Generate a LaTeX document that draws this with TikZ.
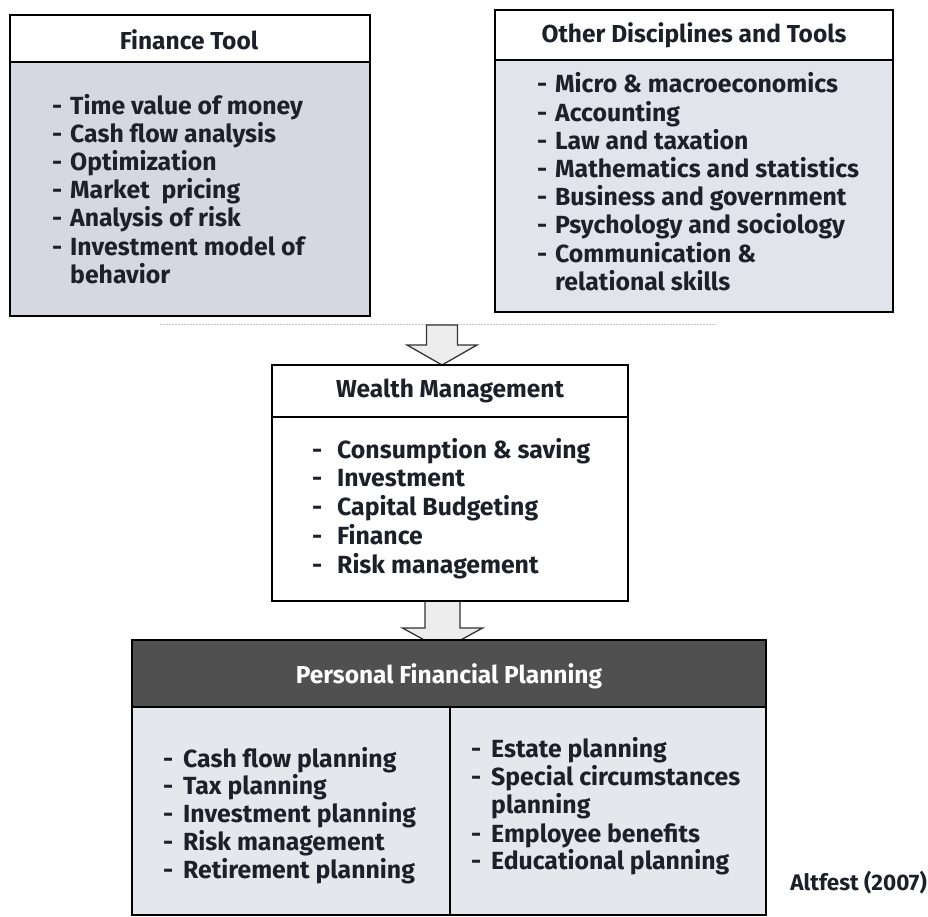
\documentclass[tikz,border=0pt]{standalone}
\usepackage{fontspec}
\setmainfont{Fira Sans}
\usetikzlibrary{calc}
\definecolor{ink}{HTML}{1E2029}
\definecolor{ftfill}{HTML}{D6D8E1}
\definecolor{odfill}{HTML}{E2E4EB}
\definecolor{pfpfill}{HTML}{E6E7EC}
\definecolor{pfphead}{HTML}{505050}
\definecolor{arrowfill}{HTML}{EDEDED}
\newcommand\dashitem[1][18pt]{\makebox[#1][l]{-}}
\begin{document}
\begin{tikzpicture}[x=1pt,y=-1pt,
  frame/.style={draw=black,line width=1.6pt},
  panel/.style={inner sep=0pt,outer sep=0pt,anchor=north west},
  headtext/.style={font=\bfseries\fontsize{24.5}{28}\selectfont,text=ink,anchor=base,inner sep=0pt},
  item/.style={font=\bfseries\fontsize{24.8}{28}\selectfont,text=ink,anchor=base west,inner sep=0pt},
  blockarrow/.style={draw=black!80,line width=1.3pt,fill=arrowfill,line join=miter}]

\useasboundingbox (0,0) rectangle (928,917);

% faint rule between the top panels and the arrow
\coordinate (rulestart) at (160,324);
\coordinate (ruleend) at (716,324);
\draw[gray!45,line width=0.8pt,dash pattern=on 2pt off 1pt] (rulestart) -- (ruleend);

% ---------- Finance Tool ----------
\node[panel,fill=ftfill,minimum width=360pt,minimum height=301pt] (ft) at (10,15) {};
\fill[white] (ft.north west) rectangle ($(ft.north east)+(0,47)$);
\draw[frame] ($(ft.north west)+(0,47)$) -- ($(ft.north east)+(0,47)$);
\draw[frame] (ft.north west) rectangle (ft.south east);
\node[headtext] (ft-head) at (189,50) {Finance Tool};
\foreach \t [count=\i] in {Time value of money,Cash flow analysis,Optimization,Market\ \ pricing,Analysis of risk,Investment model of}
  \node[item] (ft-\i) at (52,{115+(\i-1)*28}) {\dashitem\t};
\node[item] (ft-7) at (70,283) {behavior};

% ---------- Other Disciplines and Tools ----------
\node[panel,fill=odfill,minimum width=398pt,minimum height=302pt] (od) at (495,10) {};
\fill[white] (od.north west) rectangle ($(od.north east)+(0,50)$);
\draw[frame] ($(od.north west)+(0,50)$) -- ($(od.north east)+(0,50)$);
\draw[frame] (od.north west) rectangle (od.south east);
\node[headtext] (od-head) at (694,43) {Other Disciplines and Tools};
\foreach \t [count=\i] in {Micro \& macroeconomics,Accounting,Law and taxation,Mathematics and statistics,Business and government,Psychology and sociology,Communication \&}
  \node[item] (od-\i) at (537,{93+(\i-1)*28.2}) {\dashitem\t};
\node[item] (od-8) at (555,290) {relational skills};

% ---------- Wealth Management ----------
\node[panel,fill=white,minimum width=356pt,minimum height=236pt] (wm) at (272,365) {};
\draw[frame] ($(wm.north west)+(0,52)$) -- ($(wm.north east)+(0,52)$);
\node[headtext] (wm-head) at (450,397) {Wealth Management};
\foreach \t [count=\i] in {Consumption \& saving,Investment,Capital Budgeting,Finance,Risk management}
  \node[item] (wm-\i) at (312,{458+(\i-1)*28.8}) {\dashitem[25pt]\t};

% arrow from the top panels into Wealth Management
\coordinate (a1) at (442,325);
\draw[blockarrow]
  ($(a1)+(-15.5,0)$) -- ($(a1)+(15.5,0)$) -- ($(a1 |- wm.north)+(15.5,-20)$)
  -- ($(a1 |- wm.north)+(35,-20)$) -- (a1 |- wm.north)
  -- ($(a1 |- wm.north)+(-35,-20)$) -- ($(a1 |- wm.north)+(-15.5,-20)$) -- cycle;
\draw[frame] (wm.north west) rectangle (wm.south east);

% arrow from Wealth Management into Personal Financial Planning
\coordinate (a2) at (442.5,601);
\coordinate (a2tip) at (442.5,650);
\draw[blockarrow]
  ($(a2)+(-17.5,0)$) -- ($(a2)+(17.5,0)$) -- ($(a2tip)+(17.5,-22)$)
  -- ($(a2tip)+(40,-22)$) -- (a2tip)
  -- ($(a2tip)+(-40,-22)$) -- ($(a2tip)+(-17.5,-22)$) -- cycle;
\draw[frame] (wm.south west) -- (wm.south east);

% ---------- Personal Financial Planning ----------
\node[panel,fill=pfpfill,minimum width=634pt,minimum height=275pt] (pfp) at (132,640) {};
\fill[pfphead] (pfp.north west) rectangle ($(pfp.north east)+(0,67)$);
\draw[frame] ($(pfp.north west)+(0,67)$) -- ($(pfp.north east)+(0,67)$);
\draw[frame] ($(pfp.north west)+(318,67)$) -- ($(pfp.south west)+(318,0)$);
\draw[frame] (pfp.north west) rectangle (pfp.south east);
\node[headtext,text=white] (pfp-head) at (449,683) {Personal Financial Planning};
\foreach \t [count=\i] in {Cash flow planning,Tax planning,Investment planning,Risk management,Retirement planning}
  \node[item] (pl-\i) at (163,{767+(\i-1)*27.8}) {\dashitem[20pt]\t};
\node[item] (pr-1) at (471,757) {\dashitem[20pt]Estate planning};
\node[item] (pr-2) at (471,785) {\dashitem[20pt]Special circumstances};
\node[item] (pr-3) at (491,813) {planning};
\node[item] (pr-4) at (471,842) {\dashitem[20pt]Employee benefits};
\node[item] (pr-5) at (471,869) {\dashitem[20pt]Educational planning};

% source
\node[item,anchor=base east,font=\bfseries\fontsize{22.5}{26}\selectfont] (src) at (927,890) {Altfest (2007)};
\end{tikzpicture}
\end{document}
